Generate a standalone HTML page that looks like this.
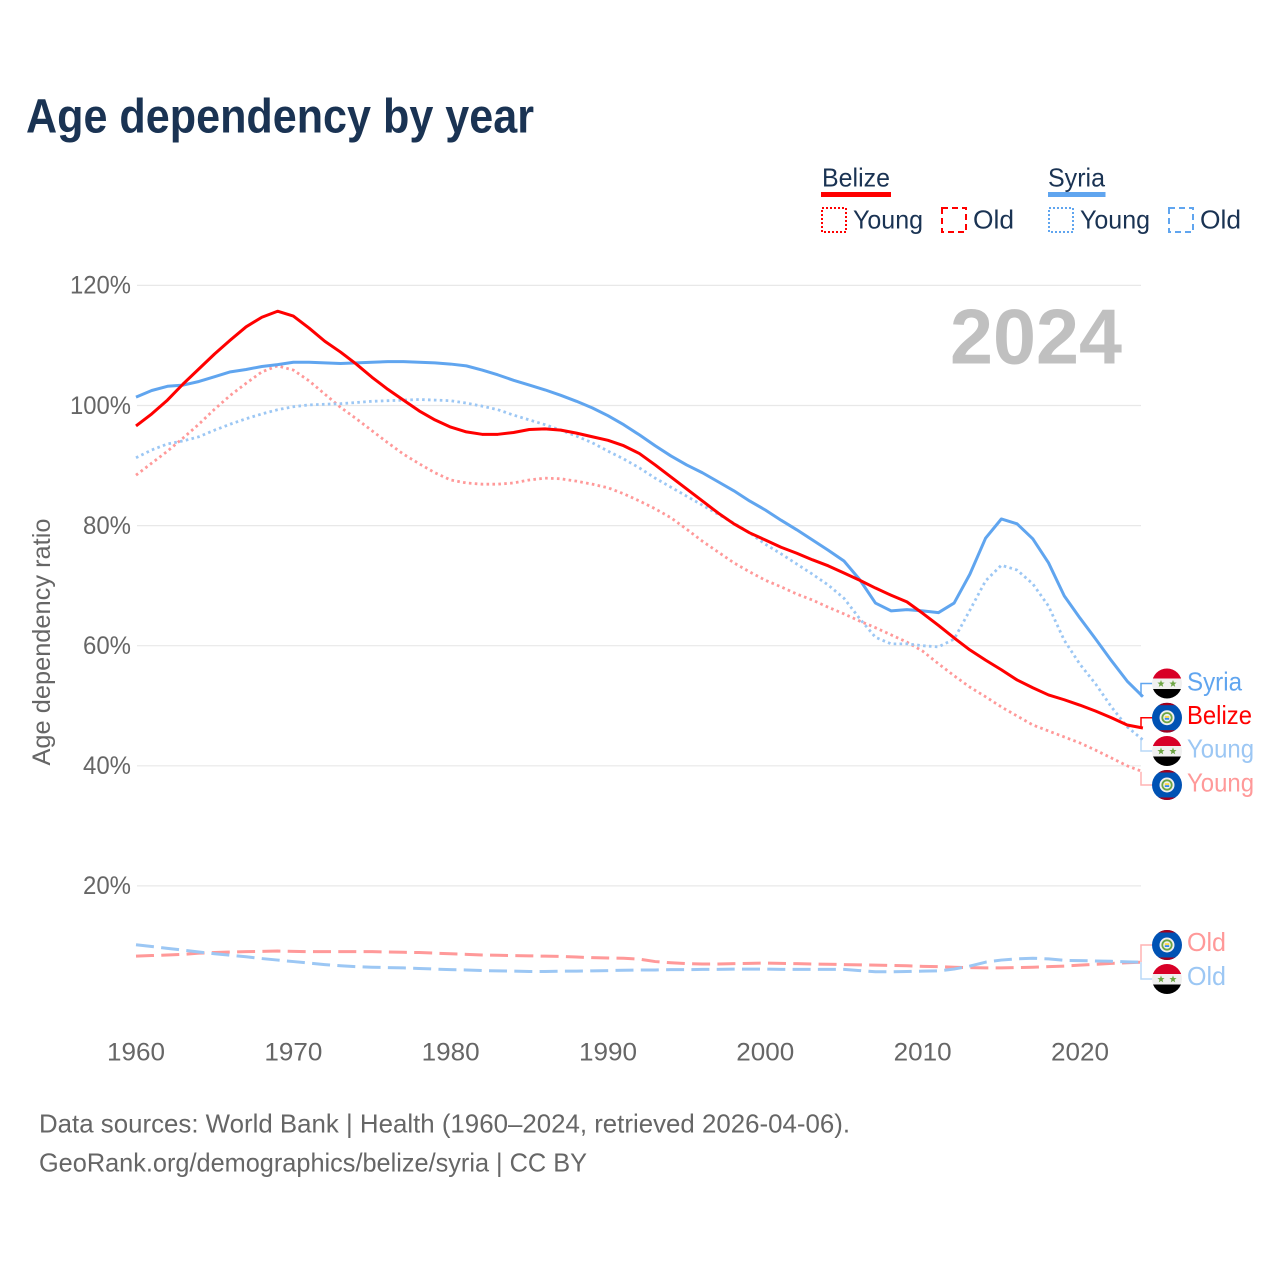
<!DOCTYPE html>
<html lang="en">
<head>
<meta charset="utf-8">
<title>Age dependency by year</title>
<style>
html,body{margin:0;padding:0;background:#fff;}
svg{display:block;font-family:"Liberation Sans",sans-serif;}
</style>
</head>
<body>
<svg id="chart" xmlns="http://www.w3.org/2000/svg" width="1280" height="1280" viewBox="0 0 1280 1280">
  <rect x="0" y="0" width="1280" height="1280" fill="#ffffff"/>
  <text x="26" y="132.5" font-size="48" font-weight="700" fill="#1a3353" textLength="508" lengthAdjust="spacingAndGlyphs">Age dependency by year</text>

  <g>
    <text x="822" y="186.5" font-size="26" fill="#1a3353" textLength="68" lengthAdjust="spacingAndGlyphs">Belize</text>
    <rect x="821" y="192" width="70" height="5" fill="#ff0000"/>
    <rect x="822" y="208" width="24" height="24" fill="none" stroke="#ff0000" stroke-width="2" stroke-dasharray="2 2"/>
    <text x="853" y="228.5" font-size="26" fill="#1a3353" textLength="70" lengthAdjust="spacingAndGlyphs">Young</text>
    <rect x="942" y="208" width="24" height="24" fill="none" stroke="#ff0000" stroke-width="2" stroke-dasharray="6 4"/>
    <text x="973" y="228.5" font-size="26" fill="#1a3353" textLength="41" lengthAdjust="spacingAndGlyphs">Old</text>

    <text x="1048" y="186.5" font-size="26" fill="#1a3353" textLength="57" lengthAdjust="spacingAndGlyphs">Syria</text>
    <rect x="1048" y="192" width="57.5" height="5" fill="#60a5ef"/>
    <rect x="1049" y="208" width="24" height="24" fill="none" stroke="#60a5ef" stroke-width="2" stroke-dasharray="2 2"/>
    <text x="1080" y="228.5" font-size="26" fill="#1a3353" textLength="70" lengthAdjust="spacingAndGlyphs">Young</text>
    <rect x="1169" y="208" width="24" height="24" fill="none" stroke="#60a5ef" stroke-width="2" stroke-dasharray="6 4"/>
    <text x="1200" y="228.5" font-size="26" fill="#1a3353" textLength="41" lengthAdjust="spacingAndGlyphs">Old</text>
  </g>

  <g id="grid"></g>
  <g id="yticks"></g>
  <g id="xticks"></g>
  <text transform="translate(50,642) rotate(-90)" text-anchor="middle" font-size="25" fill="#666666" textLength="247" lengthAdjust="spacingAndGlyphs">Age dependency ratio</text>
  <text x="950" y="363.5" font-size="78" font-weight="700" fill="#c0c0c0" textLength="172" lengthAdjust="spacingAndGlyphs">2024</text>

  <g id="series"></g>
  <g id="labels"></g>

  <text x="39" y="1132.5" font-size="26" fill="#666666" textLength="811" lengthAdjust="spacingAndGlyphs">Data sources: World Bank | Health (1960–2024, retrieved 2026-04-06).</text>
  <text x="39" y="1171.5" font-size="26" fill="#666666" textLength="548" lengthAdjust="spacingAndGlyphs">GeoRank.org/demographics/belize/syria | CC BY</text>
</svg>
<script>
const startYear = 1960;
const yTickValues = [20, 40, 60, 80, 100, 120];
const xTickValues = [1960, 1970, 1980, 1990, 2000, 2010, 2020];

const belizeTotal = [
  96.6,98.6,100.9,103.6,106.1,108.6,110.9,113.1,114.7,115.7,
  114.9,112.9,110.7,108.9,106.9,104.7,102.7,100.9,99.1,97.6,
  96.4,95.6,95.2,95.2,95.5,96.0,96.1,95.9,95.4,94.8,
  94.2,93.3,92.0,90.1,88.1,86.1,84.1,82.1,80.3,78.8,
  77.6,76.4,75.4,74.3,73.3,72.1,70.9,69.6,68.4,67.3,
  65.4,63.4,61.3,59.3,57.6,56.0,54.3,53.0,51.8,51.0,
  50.1,49.1,48.0,46.8,46.3
];
const syriaTotal = [
  101.4,102.5,103.2,103.4,104.0,104.8,105.6,106.0,106.5,106.8,
  107.2,107.2,107.1,107.0,107.1,107.2,107.3,107.3,107.2,107.1,
  106.9,106.6,105.9,105.1,104.2,103.4,102.6,101.7,100.7,99.6,
  98.3,96.8,95.1,93.3,91.6,90.1,88.8,87.3,85.8,84.1,
  82.6,80.9,79.3,77.6,75.9,74.1,71.0,67.1,65.8,66.0,
  65.8,65.5,67.1,71.9,77.9,81.1,80.3,77.8,73.8,68.3,
  64.6,61.1,57.5,54.1,51.5
];
const belizeYoung = [
  88.4,90.4,92.4,94.6,96.9,99.4,101.7,103.7,105.6,106.6,
  105.9,104.1,101.9,99.7,97.8,95.8,93.8,91.9,90.3,88.8,
  87.6,87.1,86.9,86.9,87.1,87.6,87.9,87.8,87.4,86.9,
  86.3,85.3,84.1,82.8,81.3,79.4,77.4,75.6,73.8,72.3,
  70.9,69.8,68.6,67.6,66.4,65.3,64.1,63.0,61.8,60.6,
  59.1,57.0,55.0,53.1,51.5,49.8,48.3,46.8,45.8,44.8,
  43.8,42.6,41.3,40.0,39.0
];
const syriaYoung = [
  91.3,92.6,93.6,94.1,94.8,95.9,96.9,97.8,98.6,99.3,
  99.8,100.1,100.2,100.3,100.5,100.7,100.8,100.9,101.0,100.9,
  100.8,100.4,99.9,99.3,98.4,97.6,96.8,95.9,94.9,93.8,
  92.4,91.1,89.6,87.9,86.4,84.9,83.4,81.9,80.4,78.8,
  76.9,75.3,73.6,71.9,70.1,67.9,64.5,61.4,60.3,60.3,
  60.0,59.8,61.1,65.9,70.8,73.4,72.6,70.3,66.6,60.9,
  56.9,53.6,49.8,46.5,44.3
];
const belizeOld = [
  8.3,8.4,8.5,8.6,8.8,8.9,9.0,9.05,9.1,9.15,
  9.1,9.05,9.05,9.05,9.05,9.05,9.0,8.95,8.9,8.8,
  8.7,8.6,8.5,8.45,8.4,8.35,8.3,8.25,8.15,8.05,
  8.0,7.95,7.8,7.4,7.2,7.05,7.0,7.0,7.05,7.1,
  7.15,7.1,7.05,7.0,6.95,6.9,6.85,6.8,6.75,6.7,
  6.6,6.55,6.45,6.4,6.35,6.35,6.4,6.45,6.55,6.65,
  6.8,6.95,7.1,7.2,7.3
];
const syriaOld = [
  10.2,9.9,9.6,9.3,9.0,8.7,8.45,8.2,7.9,7.65,
  7.4,7.15,6.9,6.7,6.55,6.45,6.4,6.35,6.25,6.15,
  6.05,6.0,5.9,5.85,5.8,5.75,5.75,5.8,5.8,5.85,
  5.9,5.95,6.0,6.0,6.05,6.05,6.1,6.1,6.15,6.15,
  6.15,6.1,6.1,6.1,6.1,6.1,5.9,5.7,5.7,5.75,
  5.8,5.85,6.15,6.65,7.3,7.65,7.85,7.95,7.85,7.6,
  7.55,7.5,7.45,7.35,7.3
];

const NS = 'http://www.w3.org/2000/svg';
function xScale(year) { return 136 + (year - 1960) * 15.733; }
function yScale(value) { return 1006 - value * 6.005; }
function make(tag, attrs) {
  const el = document.createElementNS(NS, tag);
  for (const k in attrs) el.setAttribute(k, attrs[k]);
  return el;
}

const gridG = document.getElementById('grid');
const yG = document.getElementById('yticks');
yTickValues.forEach(function (v) {
  const line = make('line', { x1: 137, x2: 1141, y1: yScale(v), y2: yScale(v), stroke: '#e8e8e8', 'stroke-width': 1.2 });
  
  
  gridG.appendChild(line);
  const t = make('text', { x: 131, y: yScale(v) + 8.3, 'text-anchor': 'end', 'font-size': 25, fill: '#666666', textLength: v >= 100 ? 61 : 48, lengthAdjust: 'spacingAndGlyphs' });
  t.textContent = v + '%';
  
  
  yG.appendChild(t);
});

const xG = document.getElementById('xticks');
xTickValues.forEach(function (yr) {
  const t = make('text', { x: xScale(yr), y: 1060.5, 'text-anchor': 'middle', 'font-size': 25, fill: '#666666', textLength: 58, lengthAdjust: 'spacingAndGlyphs' });
  t.textContent = yr;
  
  
  xG.appendChild(t);
});

function linePath(values) {
  return values.map(function (v, i) {
    return (i ? 'L' : 'M') + xScale(startYear + i).toFixed(2) + ' ' + yScale(v).toFixed(2);
  }).join('');
}

const seriesG = document.getElementById('series');
const seriesDefs = [
  { key: 'belize-old', values: belizeOld, color: '#ff9999', width: 3, dash: '18 7.3' },
  { key: 'syria-old', values: syriaOld, color: '#9cc7f4', width: 3, dash: '18 7.3' },
  { key: 'belize-young', values: belizeYoung, color: '#ff9999', width: 2.8, dash: '2.6 3.3' },
  { key: 'syria-young', values: syriaYoung, color: '#9cc7f4', width: 2.8, dash: '2.6 3.3' },
  { key: 'syria-total', values: syriaTotal, color: '#60a5ef', width: 3, dash: 'none' },
  { key: 'belize-total', values: belizeTotal, color: '#ff0000', width: 3, dash: 'none' }
];
seriesDefs.forEach(function (s) {
  const p = make('path', { d: linePath(s.values), fill: 'none', stroke: s.color, 'stroke-width': s.width, 'stroke-dasharray': s.dash, 'stroke-linejoin': 'round' });
  
  
  seriesG.appendChild(p);
});

function lastOf(values) { return values[values.length - 1]; }

function drawSyriaFlag(g, cx, cy, id) {
  const clip = make('clipPath', { id: id });
  clip.appendChild(make('circle', { cx: cx, cy: cy, r: 15 }));
  g.appendChild(clip);
  const f = make('g', { 'clip-path': 'url(#' + id + ')' });
  f.appendChild(make('rect', { x: cx - 15, y: cy - 15, width: 30, height: 10, fill: '#d80027' }));
  f.appendChild(make('rect', { x: cx - 15, y: cy - 5, width: 30, height: 10.5, fill: '#f0f0f0' }));
  f.appendChild(make('rect', { x: cx - 15, y: cy + 5.5, width: 30, height: 10, fill: '#000000' }));
  [-6, 6].forEach(function (dx) {
    const pts = [];
    for (let i = 0; i < 10; i++) {
      const r = i % 2 ? 1.6 : 3.8;
      const a = -Math.PI / 2 + i * Math.PI / 5;
      pts.push((cx + dx + r * Math.cos(a)).toFixed(2) + ',' + (cy + 0.3 + r * Math.sin(a)).toFixed(2));
    }
    f.appendChild(make('polygon', { points: pts.join(' '), fill: '#6da544' }));
  });
  g.appendChild(f);
}
function drawBelizeFlag(g, cx, cy, id) {
  const clip = make('clipPath', { id: id });
  clip.appendChild(make('circle', { cx: cx, cy: cy, r: 15 }));
  g.appendChild(clip);
  const f = make('g', { 'clip-path': 'url(#' + id + ')' });
  f.appendChild(make('rect', { x: cx - 15, y: cy - 15, width: 30, height: 30, fill: '#0052b4' }));
  f.appendChild(make('rect', { x: cx - 15, y: cy - 15, width: 30, height: 2.5, fill: '#a2001d' }));
  f.appendChild(make('rect', { x: cx - 15, y: cy + 12.5, width: 30, height: 2.5, fill: '#a2001d' }));
  f.appendChild(make('circle', { cx: cx, cy: cy, r: 7.5, fill: '#f0f0f0' }));
  f.appendChild(make('circle', { cx: cx, cy: cy, r: 5.6, fill: '#6da544' }));
  f.appendChild(make('circle', { cx: cx, cy: cy, r: 3.8, fill: '#f0f0f0' }));
  f.appendChild(make('rect', { x: cx - 2.2, y: cy - 1.8, width: 4.4, height: 2, fill: '#ffda44' }));
  f.appendChild(make('rect', { x: cx - 2.2, y: cy + 0.2, width: 4.4, height: 1.8, fill: '#338af3' }));
  g.appendChild(f);
}

const labelDefs = [
  { key: 'syria-total', country: 'syria', text: 'Syria', values: syriaTotal, color: '#60a5ef', link: '#60a5ef', cy: 683.5, base: 690.5, w: 55 },
  { key: 'belize-total', country: 'belize', text: 'Belize', values: belizeTotal, color: '#ff0000', link: '#ff0000', cy: 717.7, base: 723.8, w: 65 },
  { key: 'syria-young', country: 'syria', text: 'Young', values: syriaYoung, color: '#9cc7f4', link: '#b9d8f7', cy: 751, base: 757.5, w: 67 },
  { key: 'belize-young', country: 'belize', text: 'Young', values: belizeYoung, color: '#ff9999', link: '#ffb3b3', cy: 785, base: 791.5, w: 67 },
  { key: 'belize-old', country: 'belize', text: 'Old', values: belizeOld, color: '#ff9999', link: '#ffb3b3', cy: 945, base: 951, w: 39 },
  { key: 'syria-old', country: 'syria', text: 'Old', values: syriaOld, color: '#9cc7f4', link: '#b9d8f7', cy: 979, base: 985, w: 39 }
];
const labelsG = document.getElementById('labels');
labelDefs.forEach(function (d, i) {
  const g = make('g', {});
  
  
  const yEnd = yScale(lastOf(d.values));
  const conn = make('path', { d: 'M1141 ' + yEnd.toFixed(2) + 'V' + d.cy + 'H1153', fill: 'none', stroke: d.link, 'stroke-width': 1.5 });
  
  
  g.appendChild(conn);
  const flag = make('g', {});
  
  
  if (d.country === 'syria') { drawSyriaFlag(flag, 1167, d.cy, 'clip' + i); }
  else { drawBelizeFlag(flag, 1167, d.cy, 'clip' + i); }
  g.appendChild(flag);
  const t = make('text', { x: 1187, y: d.base, 'font-size': 26, fill: d.color, textLength: d.w, lengthAdjust: 'spacingAndGlyphs' });
  t.textContent = d.text;
  
  
  g.appendChild(t);
  labelsG.appendChild(g);
});
</script>
</body>
</html>
